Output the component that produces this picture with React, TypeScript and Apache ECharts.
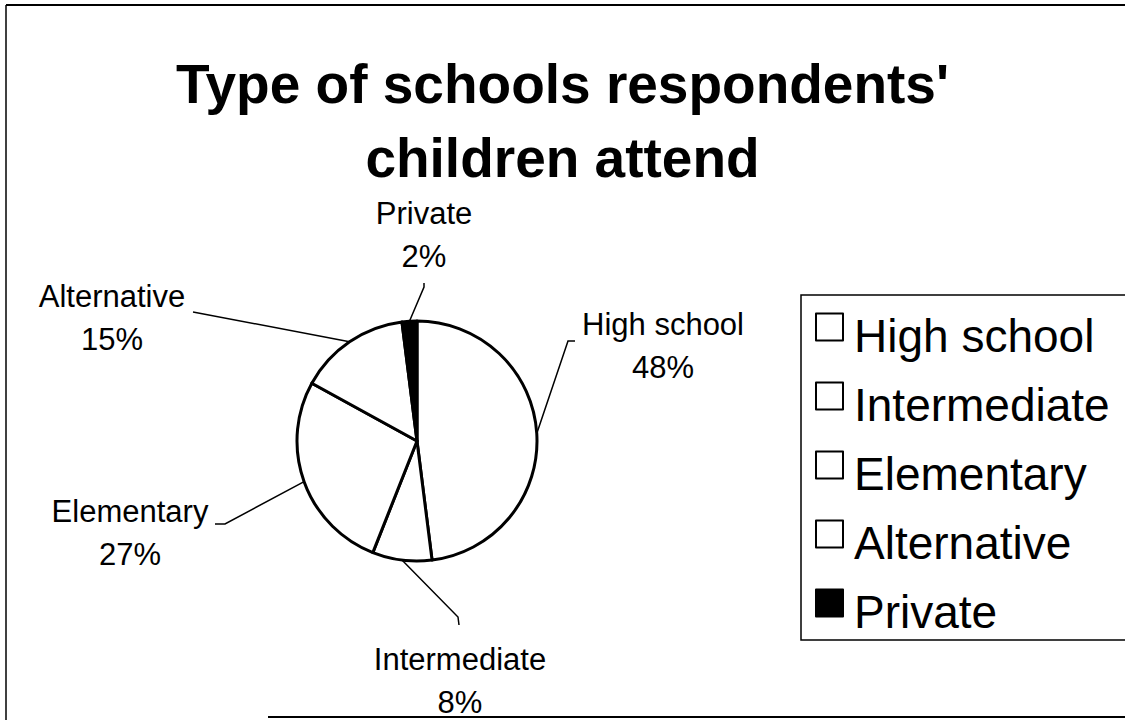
import React, { useEffect, useRef } from "react";
import * as echarts from "echarts";

const titleLines = ["Type of schools respondents'", "children attend"];
const categories = ["High school", "Intermediate", "Elementary", "Alternative", "Private"];
const shares = [48, 8, 27, 15, 2];
const sliceColors = ["#ffffff", "#ffffff", "#ffffff", "#ffffff", "#000000"];

// label anchor (centre of the two-line label) and leader elbow/end points
const labelAnchors: number[][] = [
  [663, 346],
  [460, 681],
  [130, 533],
  [112, 318],
  [424, 235],
];
const leaderBends: number[][][] = [
  [[568, 341], [575, 341]],
  [[458, 617], [459, 625]],
  [[225, 524], [215, 524]],
  [[193, 312], [193, 312]],
  [[424, 287], [424, 283]],
];

const FONT = "'Liberation Sans', Arial, sans-serif";

export default function App() {
  const ref = useRef<HTMLDivElement>(null);
  useEffect(() => {
    if (!ref.current) return;
    const chart = echarts.init(ref.current, undefined, { renderer: "svg" });
    chart.setOption({
      animation: false,
      backgroundColor: "#ffffff",
      title: {
        text: titleLines.join("\n"),
        left: "center",
        top: 47,
        padding: 0,
        textStyle: {
          fontFamily: FONT,
          fontSize: 55,
          fontWeight: "bold",
          lineHeight: 74,
          color: "#000",
        },
      },
      legend: {
        orient: "vertical",
        left: 815,
        top: 295,
        padding: 0,
        itemWidth: 27,
        itemHeight: 27,
        itemGap: 5,
        icon: "rect",
        data: categories,
        itemStyle: { borderColor: "#000", borderWidth: 2 },
        formatter: (name: string) => `{t|${name}}`,
        textStyle: {
          fontFamily: FONT,
          fontSize: 46,
          color: "#000",
          rich: {
            t: {
              fontFamily: FONT,
              fontSize: 46,
              lineHeight: 27,
              color: "#000",
              padding: [18, 0, 0, 6],
            },
          },
        },
      },
      graphic: [
        { type: "line", shape: { x1: 6, y1: 5, x2: 1125, y2: 5 }, style: { stroke: "#000", lineWidth: 2 } },
        { type: "line", shape: { x1: 6, y1: 5, x2: 6, y2: 720 }, style: { stroke: "#000", lineWidth: 1.5 } },
        { type: "line", shape: { x1: 268, y1: 717, x2: 1125, y2: 717 }, style: { stroke: "#000", lineWidth: 2 } },
        {
          type: "rect",
          shape: { x: 801, y: 295, width: 400, height: 345 },
          style: { fill: "none", stroke: "#000", lineWidth: 1.5 },
        },
      ],
      series: [
        {
          type: "pie",
          center: [417, 441],
          radius: 120,
          startAngle: 90,
          clockwise: true,
          avoidLabelOverlap: false,
          data: categories.map((name, i) => ({
            name,
            value: shares[i],
            itemStyle: { color: sliceColors[i] },
          })),
          itemStyle: { borderColor: "#000", borderWidth: 3 },
          label: {
            show: true,
            position: "outside",
            formatter: (p: any) => `${p.name}\n${Math.round(p.percent)}%`,
            fontFamily: FONT,
            fontSize: 31,
            lineHeight: 43,
            color: "#000",
            align: "center",
          },
          labelLine: {
            show: true,
            length: 20,
            length2: 10,
            lineStyle: { color: "#000", width: 1.5 },
          },
          labelLayout: (params: any) => {
            const i = params.dataIndex;
            const a = labelAnchors[i];
            const pts = params.labelLinePoints;
            const start = pts && pts[0] ? pts[0] : leaderBends[i][0];
            return {
              x: a[0],
              y: a[1],
              align: "center",
              verticalAlign: "middle",
              labelLinePoints: [start, leaderBends[i][0], leaderBends[i][1]],
            };
          },
          emphasis: { disabled: true },
        },
      ],
    });
    return () => chart.dispose();
  }, []);
  return (
    <div
      ref={ref}
      style={{ position: "fixed", left: 0, top: 0, width: 1125, height: 720 }}
    />
  );
}
